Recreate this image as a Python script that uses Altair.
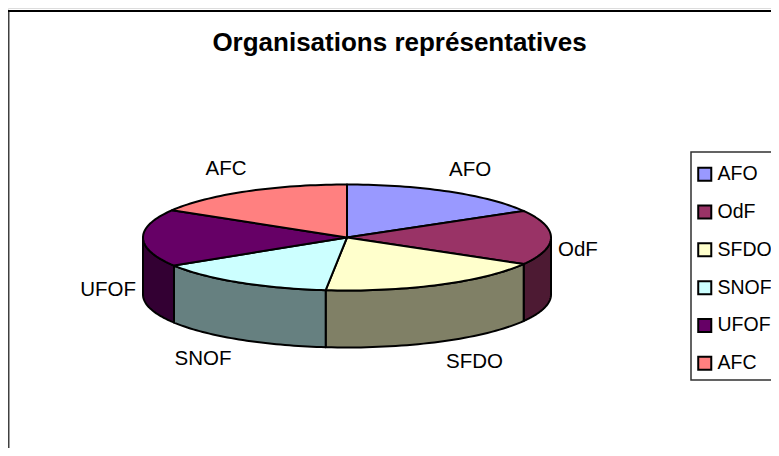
import math
import altair as alt
import pandas as pd

names = ["AFO", "OdF", "SFDO", "SNOF", "UFOF", "AFC"]
shares = [60, 60, 66, 52, 63, 59]
top_colors = ["#9999FF", "#993366", "#FFFFCC", "#CCFFFF", "#660066", "#FF8080"]
side_colors = ["#4D4D80", "#4D1A33", "#808066", "#668080", "#330033", "#804040"]
title_text = "Organisations représentatives"

W, H = 763, 440
CX, CY, RX, RY, DEPTH = 347, 237.5, 204, 53, 57
FONT = "Liberation Sans"


def pt(t, drop=0):
    r = math.radians(t)
    return CX + RX * math.sin(r), CY - RY * math.cos(r) + drop


edges = [0]
for s in shares:
    edges.append(edges[-1] + s * 360 / sum(shares))

tops, sides, labels = [], [], []
for i, name in enumerate(names):
    a, b = edges[i], edges[i + 1]
    steps = [a + (b - a) * k / 40 for k in range(41)]
    ring = [(CX, CY)] + [pt(t) for t in steps] + [(CX, CY)]
    for k, (x, y) in enumerate(ring):
        tops.append({"name": name, "k": k, "x": x, "y": y})
    lo, hi = max(a, 90), min(b, 270)
    if lo < hi:
        arc = [lo + (hi - lo) * k / 40 for k in range(41)]
        wall = [pt(t) for t in arc] + [pt(t, DEPTH) for t in reversed(arc)]
        wall.append(wall[0])
        for k, (x, y) in enumerate(wall):
            sides.append({"name": name, "k": k, "x": x, "y": y, "c": side_colors[i]})
    mid = (a + b) / 2
    c, s_ = math.cos(math.radians(mid)), math.sin(math.radians(mid))
    if c > 0.1:
        dy, gap = -22, 0
    elif c < -0.1:
        dy, gap = DEPTH + 20, 14
    else:
        dy, gap = (12 if s_ > 0 else 52), 7
    x = CX + (RX + gap) * s_
    y = CY - RY * c + dy
    labels.append({"name": name, "x": x, "y": y, "side": "r" if s_ > 0 else "l"})

xs = alt.Scale(domain=[8, 8 + W], range=[0, W], nice=False)
ys = alt.Scale(domain=[8 + H, 8], range=[H, 0], nice=False)
X = alt.X("x:Q", scale=xs, axis=None)
Y = alt.Y("y:Q", scale=ys, axis=None)

side_layer = (
    alt.Chart(pd.DataFrame(sides))
    .mark_line(stroke="black", strokeWidth=2, strokeJoin="round")
    .encode(x=X, y=Y, order="k:Q", detail="name:N", fill=alt.Fill("c:N", scale=None, legend=None))
)
top_layer = (
    alt.Chart(pd.DataFrame(tops))
    .mark_line(stroke="black", strokeWidth=2, strokeJoin="round")
    .encode(
        x=X,
        y=Y,
        order="k:Q",
        detail="name:N",
        fill=alt.Fill(
            "name:N",
            scale=alt.Scale(domain=names, range=top_colors),
            sort=names,
            legend=alt.Legend(
                title=None,
                orient="none",
                legendX=687,
                legendY=156.5,
                symbolType="square",
                symbolSize=170,
                symbolStrokeColor="black",
                symbolStrokeWidth=2,
                symbolOpacity=1,
                labelFont=FONT,
                labelFontSize=19.5,
                labelColor="black",
                labelOffset=3,
                rowPadding=15.8,
                padding=0,
            ),
        ),
    )
)
ldf = pd.DataFrame(labels)
label_r = (
    alt.Chart(ldf[ldf.side == "r"])
    .mark_text(font=FONT, fontSize=20.5, align="left", color="black")
    .encode(x=X, y=Y, text="name:N")
)
label_l = (
    alt.Chart(ldf[ldf.side == "l"])
    .mark_text(font=FONT, fontSize=20.5, align="right", color="black")
    .encode(x=X, y=Y, text="name:N")
)
blank = pd.DataFrame({"a": [0]})
frame_left = alt.Chart(blank).mark_rule(color="#404040", strokeWidth=2).encode(
    x=alt.value(0.5), y=alt.value(2), y2=alt.value(H)
)
frame_top = alt.Chart(blank).mark_rule(color="black", strokeWidth=2).encode(
    y=alt.value(3), x=alt.value(0), x2=alt.value(W)
)
legend_box = alt.Chart(blank).mark_rect(fill="white", stroke="#303030", strokeWidth=1.5).encode(
    x=alt.value(683), x2=alt.value(W + 10), y=alt.value(144), y2=alt.value(372)
)

chart = (
    alt.layer(frame_left, frame_top, legend_box, side_layer, top_layer, label_r, label_l)
    .resolve_scale(fill="independent")
    .properties(
        width=W,
        height=H,
        padding=0,
        autosize=alt.AutoSizeParams(type="none"),
        title=alt.TitleParams(
            title_text,
            font=FONT,
            fontSize=26,
            fontWeight="bold",
            color="black",
            anchor="middle",
            dx=10,
            dy=52,
        ),
    )
    .configure_view(stroke=None)
    .configure(background="white")
)
chart.save("out.html", embed_options={"renderer": "svg", "actions": False})
